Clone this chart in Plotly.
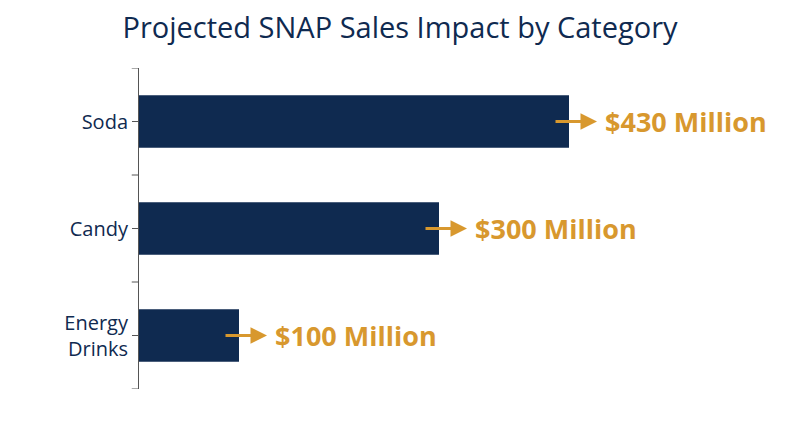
import plotly.graph_objects as go

categories = ["Soda", "Candy", "Energy<br>Drinks"]
values = [430, 300, 100]
labels = ["$430 Million", "$300 Million", "$100 Million"]

navy = "#0F2A50"
gold = "#D8982E"

fig = go.Figure(go.Bar(x=values, y=categories, orientation="h",
                       marker=dict(color=navy, line=dict(width=0)), width=0.49))

ann = []
for c, v, t in zip(categories, values, labels):
    ann.append(dict(x=v + 28, y=c, xref="x", yref="y", ax=-43, ay=0,
                    showarrow=True, arrowhead=2, arrowsize=1.1, arrowwidth=3,
                    arrowcolor=gold, text=""))
    ann.append(dict(x=v + 34, y=c, xref="x", yref="y", showarrow=False,
                    xanchor="left", text="<b>" + t + "</b>",
                    font=dict(family="Open Sans", size=27, color=gold)))

shapes = []
for i in range(len(categories) + 1):
    shapes.append(dict(type="line", xref="paper", yref="y", x0=-0.011, x1=0,
                       y0=i - 0.5, y1=i - 0.5, line=dict(color="#555", width=1)))

fig.update_layout(
    width=800, height=447, plot_bgcolor="white", paper_bgcolor="white",
    margin=dict(l=131, r=9, t=60, b=66),
    title=dict(text="Projected SNAP Sales Impact by Category", x=0.49, xref="container",
               y=0.955, yanchor="middle",
               font=dict(family="Open Sans", size=29, color=navy)),
    xaxis=dict(range=[0, 660], visible=False),
    yaxis=dict(autorange=False, range=[2.5, -0.5], showline=True, linecolor="#555",
               linewidth=1, ticks="outside", ticklen=6, tickcolor="#555",
               tickfont=dict(family="Open Sans", size=20, color=navy)),
    annotations=ann, shapes=shapes, showlegend=False,
)
fig.write_html("out.html")
